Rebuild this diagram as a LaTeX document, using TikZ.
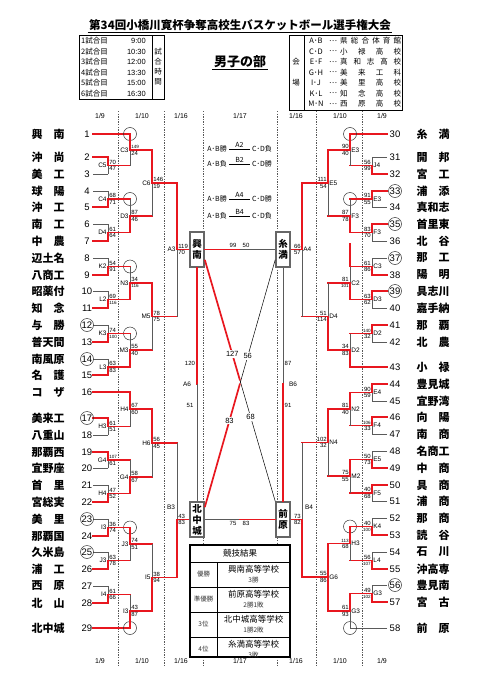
\documentclass[tikz,border=0pt]{standalone}
\usepackage{fontspec}
\setmainfont{Liberation Sans}
\newfontfamily\jp{Noto Sans CJK JP}
\usetikzlibrary{positioning,calc}
\definecolor{brred}{HTML}{E8171F}
\definecolor{brgray}{HTML}{5A5A5A}
\newcommand{\smsc}[1]{{\fontsize{4.6}{5}\selectfont #1}}
% bracket joint, left half: x, x out, y winner, y loser, y out, label, upper score, lower score
\newcommand{\brL}[8]{%
  \draw[gl] (#1,#4) -- (#1,#5);
  \draw[rl] (#1,#3) -- (#1,#5) -- (#2,#5);
  \node[mlab,anchor=east] at (#1,#5) {#6};
  \node[sc,anchor=south west] at (#1,#5) {#7};
  \node[sc,anchor=north west] at (#1,#5) {#8};}
% bracket joint, right half
\newcommand{\brR}[8]{%
  \draw[gl] (#1,#4) -- (#1,#5);
  \draw[rl] (#1,#3) -- (#1,#5) -- (#2,#5);
  \node[mlab,anchor=west] at (#1,#5) {#6};
  \node[sc,anchor=south east] at (#1,#5) {#7};
  \node[sc,anchor=north east] at (#1,#5) {#8};}

\begin{document}
\begin{tikzpicture}[x=1pt,y=-1pt,
  gl/.style={draw=brgray,line width=0.7pt},
  rl/.style={draw=brred,line width=1.7pt,line cap=rect},
  dotl/.style={draw=black!65,line width=0.45pt,dash pattern=on 1.4pt off 1.2pt},
  num/.style={font=\fontsize{9.5}{10}\selectfont,inner sep=0.5pt},
  tname/.style={font=\jp\bfseries\fontsize{11}{11}\selectfont,inner sep=0pt},
  sc/.style={font=\fontsize{6}{6}\selectfont,inner sep=1.1pt},
  dsc/.style={font=\fontsize{7.5}{7.5}\selectfont,inner sep=1.2pt,fill=white},
  mlab/.style={font=\fontsize{6.5}{6.5}\selectfont,inner sep=1.2pt},
  hdr/.style={font=\fontsize{7}{7}\selectfont},
  sched/.style={font=\jp\fontsize{7.5}{8}\selectfont,inner sep=0pt},
  fbox/.style={draw=black!60,line width=1.6pt,fill=white,minimum width=14pt,
               minimum height=35pt,inner sep=0pt,align=center,
               font=\jp\bfseries\fontsize{9.5}{11}\selectfont},
  ring/.style={draw=black!80,line width=0.5pt},
  pair/.style={font=\jp\fontsize{7}{7}\selectfont,inner sep=1pt},
  tbl/.style={font=\jp\fontsize{8.5}{9}\selectfont,inner sep=0pt},
  tblsm/.style={font=\jp\fontsize{6.5}{7}\selectfont,inner sep=0pt,text=black!80}
]
\useasboundingbox (0,0) rectangle (481,680);

% ---- Title ---------------------------------------------------
\node[font=\jp\bfseries\fontsize{11.5}{12}\selectfont,inner sep=1.5pt] (title) at (240,25)
  {第34回小橋川寛杯争奪高校生バスケットボール選手権大会};
\draw[line width=0.8pt] (title.south west) -- (title.south east);
\node[font=\jp\bfseries\fontsize{13}{14}\selectfont,inner sep=1.5pt] (boys) at (240,62) {男子の部};
\draw[line width=0.8pt] (boys.south west) -- (boys.south east);

% ---- Match times ---------------------------------------------
\draw[line width=0.6pt] (79,35) rectangle (164,99);
\draw[line width=0.6pt] (152,35) -- (152,99);
\foreach \i/\t in {1/9:00,2/10:30,3/12:00,4/13:30,5/15:00,6/16:30}{
  \node[sched,anchor=west] (sl\i) at (81,{30.5+10.5*\i}) {\i\jp 試合目};
  \node[sched,anchor=east,font=\fontsize{7.5}{8}\selectfont] (st\i) at (146,{30.5+10.5*\i}) {\t};
}
\node[sched,align=center,font=\jp\fontsize{7.5}{10}\selectfont] (tm) at (158,67) {試\\合\\時\\間};

% ---- Venues --------------------------------------------------
\draw[line width=0.6pt] (289,35) rectangle (402,110);
\draw[line width=0.6pt] (304,35) -- (304,110);
\node[sched] (v1) at (296,62) {会};
\node[sched] (v2) at (296,83) {場};
\foreach \i/\a/\v in {1/A･B/県\hfill 総\hfill 合\hfill 体\hfill 育\hfill 館,
    2/C･D/小\hfill 禄\hfill 高\hfill 校, 3/E･F/真\hfill 和\hfill 志\hfill 高\hfill 校,
    4/G･H/美\hfill 来\hfill 工\hfill 科, 5/I･J/美\hfill 里\hfill 高\hfill 校,
    6/K･L/知\hfill 念\hfill 高\hfill 校, 7/M･N/西\hfill 原\hfill 高\hfill 校}{
  \node[sched] (vc\i) at (316,{30.5+10.5*\i}) {\a};
  \node[sched] (vd\i) at (333,{30.5+10.5*\i}) {…};
  \node[sched,anchor=west] (vn\i) at (340,{30.5+10.5*\i}) {\makebox[61pt]{\v}};
}

% ---- Day columns ---------------------------------------------
\foreach \x in {118,164,203,277,316,362}
  \draw[dotl] (\x,111) -- (\x,665);
\foreach \x/\a/\b in {100/1/9,142/1/10,181/1/16,240/1/17,296/1/16,340/1/10,382/1/9}{
  \node[hdr] (ht\x) at (\x,116) {\a/\b};
  \node[hdr] (hb\x) at (\x,661) {\a/\b};
}

% ---- Teams, left ---------------------------------------------
\foreach \n/\y/\nm/\xe/\st in {1/134/興\hfill 南/130/rl, 2/157/沖\hfill 尚/108/rl,
    3/174/美\hfill 工/108/gl, 4/191/球\hfill 陽/108/gl, 5/207/沖\hfill 工/108/rl,
    6/224/南\hfill 工/108/gl, 7/241/中\hfill 農/108/rl, 8/258/辺土名/108/gl,
    9/275/八商工/108/rl, 10/291/昭薬付/108/gl, 11/308/知\hfill 念/108/rl,
    12/325/与\hfill 勝/108/gl, 13/342/普天間/108/rl, 14/359/南風原/108/gl,
    15/375/名\hfill 護/108/rl, 16/392/コ\hfill ザ/130/rl, 17/418/美来工/108/rl,
    18/435/八重山/108/gl, 19/452/那覇西/108/rl, 20/468/宜野座/108/gl,
    21/485/首\hfill 里/108/gl, 22/502/宮総実/108/rl, 23/519/美\hfill 里/108/gl,
    24/536/那覇国/108/rl, 25/552/久米島/108/gl, 26/569/浦\hfill 工/108/rl,
    27/586/西\hfill 原/108/gl, 28/603/北\hfill 山/108/rl, 29/628/北中城/130/rl}{
  \node[num] (n\n) at (87,\y) {\n};
  \node[tname] (t\n) at (48,\y) {\makebox[33pt]{\nm}};
  \draw[\st] (93,\y) -- (\xe,\y);
}

% ---- Teams, right --------------------------------------------
\foreach \n/\y/\nm/\xe/\st in {30/134/糸\hfill 満/350/rl, 31/157/開\hfill 邦/372/gl,
    32/174/宮\hfill 工/372/rl, 33/191/浦\hfill 添/372/rl, 34/207/真和志/372/gl,
    35/224/首里東/372/rl, 36/241/北\hfill 谷/372/gl, 37/258/那\hfill 工/372/gl,
    38/275/陽\hfill 明/372/rl, 39/291/具志川/372/rl, 40/308/嘉手納/372/gl,
    41/325/那\hfill 覇/372/rl, 42/342/北\hfill 農/372/gl, 43/367/小\hfill 禄/350/rl,
    44/384/豊見城/372/rl, 45/401/宜野湾/372/gl, 46/417/向\hfill 陽/372/rl,
    47/434/南\hfill 商/372/gl, 48/451/名商工/372/gl, 49/468/中\hfill 商/372/rl,
    50/485/具\hfill 商/372/rl, 51/501/浦\hfill 商/372/gl, 52/518/那\hfill 商/372/gl,
    53/535/読\hfill 谷/372/rl, 54/552/石\hfill 川/372/gl, 55/569/沖高専/372/rl,
    56/585/豊見南/372/gl, 57/602/宮\hfill 古/372/rl, 58/628/前\hfill 原/350/gl}{
  \node[num] (n\n) at (395,\y) {\n};
  \node[tname] (t\n) at (433,\y) {\makebox[33pt]{\nm}};
  \draw[\st] (387,\y) -- (\xe,\y);
}
\foreach \n in {12,14,17,23,25,33,35,37,39,56}
  \draw[ring] (n\n) circle (6.5);
\foreach \x/\y in {130/134,130/199,130/266.5,130/333.5,130/527.5,130/628,
                   350/134,350/199,350/526.5,350/628}
  \draw[ring] (\x,\y) circle (6.5);

% ---- Left bracket --------------------------------------------
\brL{108}{130}{157}{174}{165.5}{C5}{70}{47}
\brL{108}{130}{207}{191}{199}{C4}{68}{71}
\brL{108}{130}{241}{224}{232.5}{D4}{61}{64}
\brL{108}{130}{275}{258}{266.5}{K2}{54}{91}
\brL{108}{130}{308}{291}{299.5}{L2}{69}{\smsc{116}}
\brL{108}{130}{342}{325}{333.5}{K3}{74}{\smsc{100}}
\brL{108}{130}{375}{359}{367}{L3}{63}{83}
\brL{108}{130}{418}{435}{426.5}{H3}{61}{51}
\brL{108}{130}{452}{468}{460}{G4}{\smsc{107}}{61}
\brL{108}{130}{502}{485}{493.5}{H4}{47}{52}
\brL{108}{130}{536}{519}{527.5}{I3}{36}{74}
\brL{108}{130}{569}{552}{560.5}{J3}{63}{78}
\brL{108}{130}{603}{586}{594.5}{I4}{61}{66}
\brL{130}{152}{134}{165.5}{150}{C3}{\smsc{149}}{24}
\brL{130}{152}{232.5}{199}{216}{D3}{87}{46}
\brL{130}{152}{299.5}{266.5}{283}{N3}{34}{\smsc{116}}
\brL{130}{152}{367}{333.5}{350}{M3}{55}{40}
\brL{130}{152}{392}{426.5}{409}{H4}{67}{60}
\brL{130}{152}{493.5}{460}{477}{G4}{58}{67}
\brL{130}{152}{527.5}{560.5}{544}{J3}{74}{51}
\brL{130}{152}{628}{594.5}{611}{I3}{43}{87}
\brL{152}{177}{150}{216}{183}{C6}{146}{19}
\brL{152}{177}{283}{350}{316.5}{M5}{78}{75}
\brL{152}{177}{409}{477}{443}{H6}{56}{45}
\brL{152}{177}{611}{544}{577.5}{I5}{38}{94}
\brL{177}{190}{183}{316.5}{249.5}{A3}{119}{70}
\brL{177}{190}{577.5}{443}{519.5}{}{43}{83}
\node[mlab] (lb3) at (171,507) {B3};

% ---- Right bracket -------------------------------------------
\brR{372}{350}{174}{157}{165.5}{J4}{56}{99}
\brR{372}{350}{191}{207}{199}{E3}{91}{55}
\brR{372}{350}{224}{241}{232.5}{F3}{83}{70}
\brR{372}{350}{275}{258}{266.5}{C3}{61}{86}
\brR{372}{350}{291}{308}{299.5}{D3}{63}{62}
\brR{372}{350}{325}{342}{333.5}{D2}{\smsc{140}}{32}
\brR{372}{350}{384}{401}{392.5}{E4}{90}{59}
\brR{372}{350}{417}{434}{425.5}{F4}{\smsc{106}}{33}
\brR{372}{350}{468}{451}{459.5}{E5}{50}{73}
\brR{372}{350}{485}{501}{493}{F5}{40}{68}
\brR{372}{350}{535}{518}{526.5}{K4}{40}{\smsc{100}}
\brR{372}{350}{569}{552}{560.5}{L4}{56}{\smsc{107}}
\brR{372}{350}{602}{585}{593.5}{G3}{49}{\smsc{102}}
\brR{350}{328}{134}{165.5}{150}{E3}{90}{40}
\brR{350}{328}{232.5}{199}{216}{F3}{87}{78}
\brR{350}{328}{299.5}{266.5}{283}{C2}{81}{\smsc{101}}
\draw[rl] (350,244) -- (350,266.5);
\brR{350}{328}{367}{333.5}{350}{D2}{34}{83}
\brR{350}{328}{392.5}{425.5}{409}{N2}{81}{40}
\brR{350}{328}{459.5}{493}{476}{M2}{75}{55}
\brR{350}{328}{526.5}{560.5}{543.5}{H3}{\smsc{113}}{68}
\brR{350}{328}{593.5}{628}{611}{G3}{61}{93}
\brR{328}{302}{150}{216}{183}{E5}{111}{54}
\brR{328}{302}{350}{283}{316.5}{D4}{51}{114}
\brR{328}{302}{409}{476}{442.5}{N4}{102}{32}
\brR{328}{302}{611}{543.5}{577}{G6}{55}{86}
\draw[rl] (328,543.5) -- (328,577);
\brR{302}{290}{183}{316.5}{249.5}{A4}{66}{57}
\brR{302}{290}{577}{442.5}{519.5}{}{73}{82}
\node[mlab] (rb4) at (309,507) {B4};

% ---- Final league (1/17) -------------------------------------
\foreach \y/\m/\a/\b in {149/A2/勝/負,164/B2/負/勝,199/A4/勝/勝,216/B4/負/負}{
  \node[pair,anchor=east,inner sep=2pt] (pl\m) at (229,\y) {A･B\a};
  \node[pair,anchor=west,inner sep=2pt] (pr\m) at (250,\y) {C･D\b};
  \draw[thin] (pl\m.east) -- (pr\m.west) node[midway,above,pair] {\m};
}
\node[fbox] (kn) at (197,249.5) {興\\南};
\node[fbox] (im) at (283,249.5) {糸\\満};
\node[fbox] (kc) at (197,519.5) {北\\中\\城};
\node[fbox] (mh) at (283,519.5) {前\\原};

\coordinate (tc) at (240,249.5);
\coordinate (bc) at (240,519.5);
\draw[rl] (kn.east) -- (tc);
\draw[gl] (tc) -- (im.west);
\draw[gl] (kc.east) -- (bc);
\draw[rl] (bc) -- (mh.west);
\node[sc] (s99) at (233,245) {99};
\node[sc] (s50) at (246,245) {50};
\node[sc] (s75) at (233,523.5) {75};
\node[sc] (s83) at (246,523.5) {83};

\coordinate (lm) at (197,384);
\coordinate (rm) at (283,384);
\draw[rl] (kn.south) -- (lm);
\draw[gl] (lm) -- (kc.north);
\draw[gl] (im.south) -- (rm);
\draw[rl] (rm) -- (mh.north);
\node[sc] (s120) at (190,363) {120};
\node[mlab] (la6) at (187,384) {A6};
\node[sc] (s51) at (190,405) {51};
\node[sc] (s87) at (288,363) {87};
\node[mlab] (lb6) at (293,384) {B6};
\node[sc] (s91) at (288,405) {91};

\coordinate (dA) at ([yshift=8pt]kn.south east);
\coordinate (dB) at ([yshift=8pt]im.south west);
\coordinate (dC) at ([yshift=-6pt]kc.north east);
\coordinate (dD) at (mh.north west);
\draw[rl,line cap=butt] (dA) -- ($(dA)!0.5!(dD)$);
\draw[black,line width=0.5pt] ($(dA)!0.5!(dD)$) -- (dD);
\draw[black,line width=0.5pt] (dB) -- ($(dB)!0.5!(dC)$);
\draw[rl,line cap=butt] ($(dB)!0.5!(dC)$) -- (dC);
\path (dA) -- (dD) node[pos=0.39,dsc] {127} node[pos=0.65,dsc] {68};
\path (dB) -- (dC) node[pos=0.39,dsc] {56} node[pos=0.65,dsc] {83};

% ---- Results table -------------------------------------------
\draw[line width=1.3pt,fill=white] (190,545) rectangle (290,657);
\foreach \y in {562,587,612,637} \draw[line width=0.5pt] (190,\y) -- (290,\y);
\draw[line width=0.5pt] (217,562) -- (217,657);
\node[tbl] (res) at (240,553.5) {競技結果};
\foreach \y/\r/\s/\w in {574.5/優勝/興南高等学校/3勝, 599.5/準優勝/前原高等学校/2勝1敗,
    624.5/3位/北中城高等学校/1勝2敗, 649.5/4位/糸満高等学校/3敗}{
  \node[tblsm] (rk\y) at (203.5,\y) {\r};
  \node[tbl] (rs\y) at (253.5,{\y-5}) {\s};
  \node[tblsm] (rw\y) at (253.5,{\y+6}) {\w};
}

\end{tikzpicture}
\end{document}
